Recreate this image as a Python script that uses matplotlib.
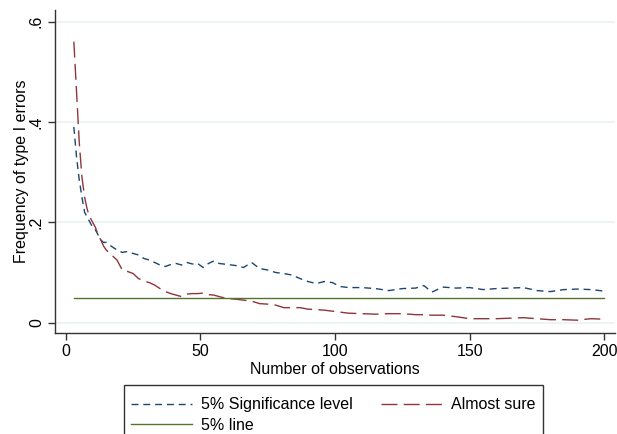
import matplotlib.pyplot as plt
from matplotlib.patches import Rectangle

plt.rcParams['font.family'] = ['Liberation Sans', 'DejaVu Sans']

obs = [3, 4, 5, 6, 7, 8, 9, 10, 11, 12, 13, 14, 15, 17, 19, 21, 23, 25, 27, 29,
       31, 33, 35, 37, 39, 41, 43, 45, 47, 49, 51, 53, 55, 57, 60, 63, 66, 69, 72, 75,
       78, 81, 84, 87, 90, 93, 96, 99, 102, 105, 110, 115, 120, 125, 130, 133, 136, 140, 145, 150,
       155, 160, 165, 170, 175, 180, 185, 190, 195, 200]

signif = [0.39, 0.33, 0.285, 0.25, 0.22, 0.21, 0.2, 0.19, 0.185, 0.175, 0.165, 0.16, 0.16, 0.152, 0.145, 0.14, 0.142, 0.138, 0.135, 0.128,
          0.125, 0.12, 0.115, 0.112, 0.116, 0.118, 0.115, 0.12, 0.117, 0.118, 0.11, 0.118, 0.123, 0.118, 0.116, 0.114, 0.11, 0.12, 0.108, 0.105,
          0.1, 0.098, 0.095, 0.088, 0.082, 0.078, 0.082, 0.08, 0.072, 0.07, 0.07, 0.068, 0.064, 0.068, 0.069, 0.074, 0.061, 0.071, 0.069, 0.07,
          0.066, 0.068, 0.069, 0.07, 0.064, 0.062, 0.066, 0.067, 0.066, 0.063]

almost_sure = [0.56, 0.46, 0.36, 0.29, 0.25, 0.225, 0.21, 0.2, 0.19, 0.175, 0.165, 0.153, 0.145, 0.135, 0.125, 0.105, 0.102, 0.098, 0.088, 0.083,
               0.08, 0.075, 0.068, 0.062, 0.058, 0.055, 0.052, 0.057, 0.058, 0.058, 0.059, 0.056, 0.055, 0.052, 0.048, 0.047, 0.045, 0.043, 0.038, 0.037,
               0.035, 0.03, 0.03, 0.03, 0.027, 0.026, 0.025, 0.023, 0.021, 0.019, 0.018, 0.017, 0.018, 0.018, 0.016, 0.016, 0.015, 0.015, 0.012, 0.008,
               0.008, 0.008, 0.009, 0.01, 0.008, 0.006, 0.006, 0.005, 0.008, 0.007]

five_line = [0.05] * len(obs)

yticks = [0, 0.2, 0.4, 0.6]
ytick_labels = ['0', '.2', '.4', '.6']
xticks = [0, 50, 100, 150, 200]

fig = plt.figure(figsize=(6.17, 4.34), dpi=100)
ax = fig.add_axes([55 / 617, 101 / 434, 560 / 617, 323 / 434])

for y in yticks:
    ax.axhline(y, color='#eaf2f3', lw=1.2, zorder=0)

l1, = ax.plot(obs, signif, color='#1a476f', lw=1.0, dashes=(5, 3.5), label='5% Significance level')
l2, = ax.plot(obs, almost_sure, color='#90353b', lw=1.0, dashes=(11.5, 4.5), label='Almost sure')
l3, = ax.plot(obs, five_line, color='#55752f', lw=1.0, label='5% line')

ax.set_xlim(-4, 204)
ax.set_ylim(-0.0205, 0.623)
ax.set_yticks(yticks)
ax.set_yticklabels(ytick_labels, rotation=90, va='center')
ax.set_xticks(xticks)
ax.tick_params(labelsize=11.5, length=5, width=1, color='#333333', pad=3)

for side in ['top', 'right']:
    ax.spines[side].set_visible(False)
for side in ['left', 'bottom']:
    ax.spines[side].set_color('#333333')
    ax.spines[side].set_linewidth(1)

ax.set_xlabel('Number of observations', fontsize=11.5, labelpad=2)
ax.set_ylabel('Frequency of type I errors', fontsize=11.5, labelpad=0)

# legend box runs off the bottom edge like in the original
fig.patches.append(Rectangle((124 / 617, -0.05), 419 / 617, 49 / 434 + 0.05,
                             transform=fig.transFigure, fill=False,
                             edgecolor='#333333', lw=1))

leg = fig.legend([l1, l3, l2], ['5% Significance level', '5% line', 'Almost sure'],
                 ncol=2, loc='upper left', mode='expand',
                 bbox_to_anchor=(124 / 617, 0, 419 / 617, 44 / 434),
                 fontsize=11.5, frameon=False,
                 handlelength=3.8, handletextpad=0.6, labelspacing=0.35,
                 borderpad=0.45, borderaxespad=0)

fig.savefig('out.png', dpi=100)
